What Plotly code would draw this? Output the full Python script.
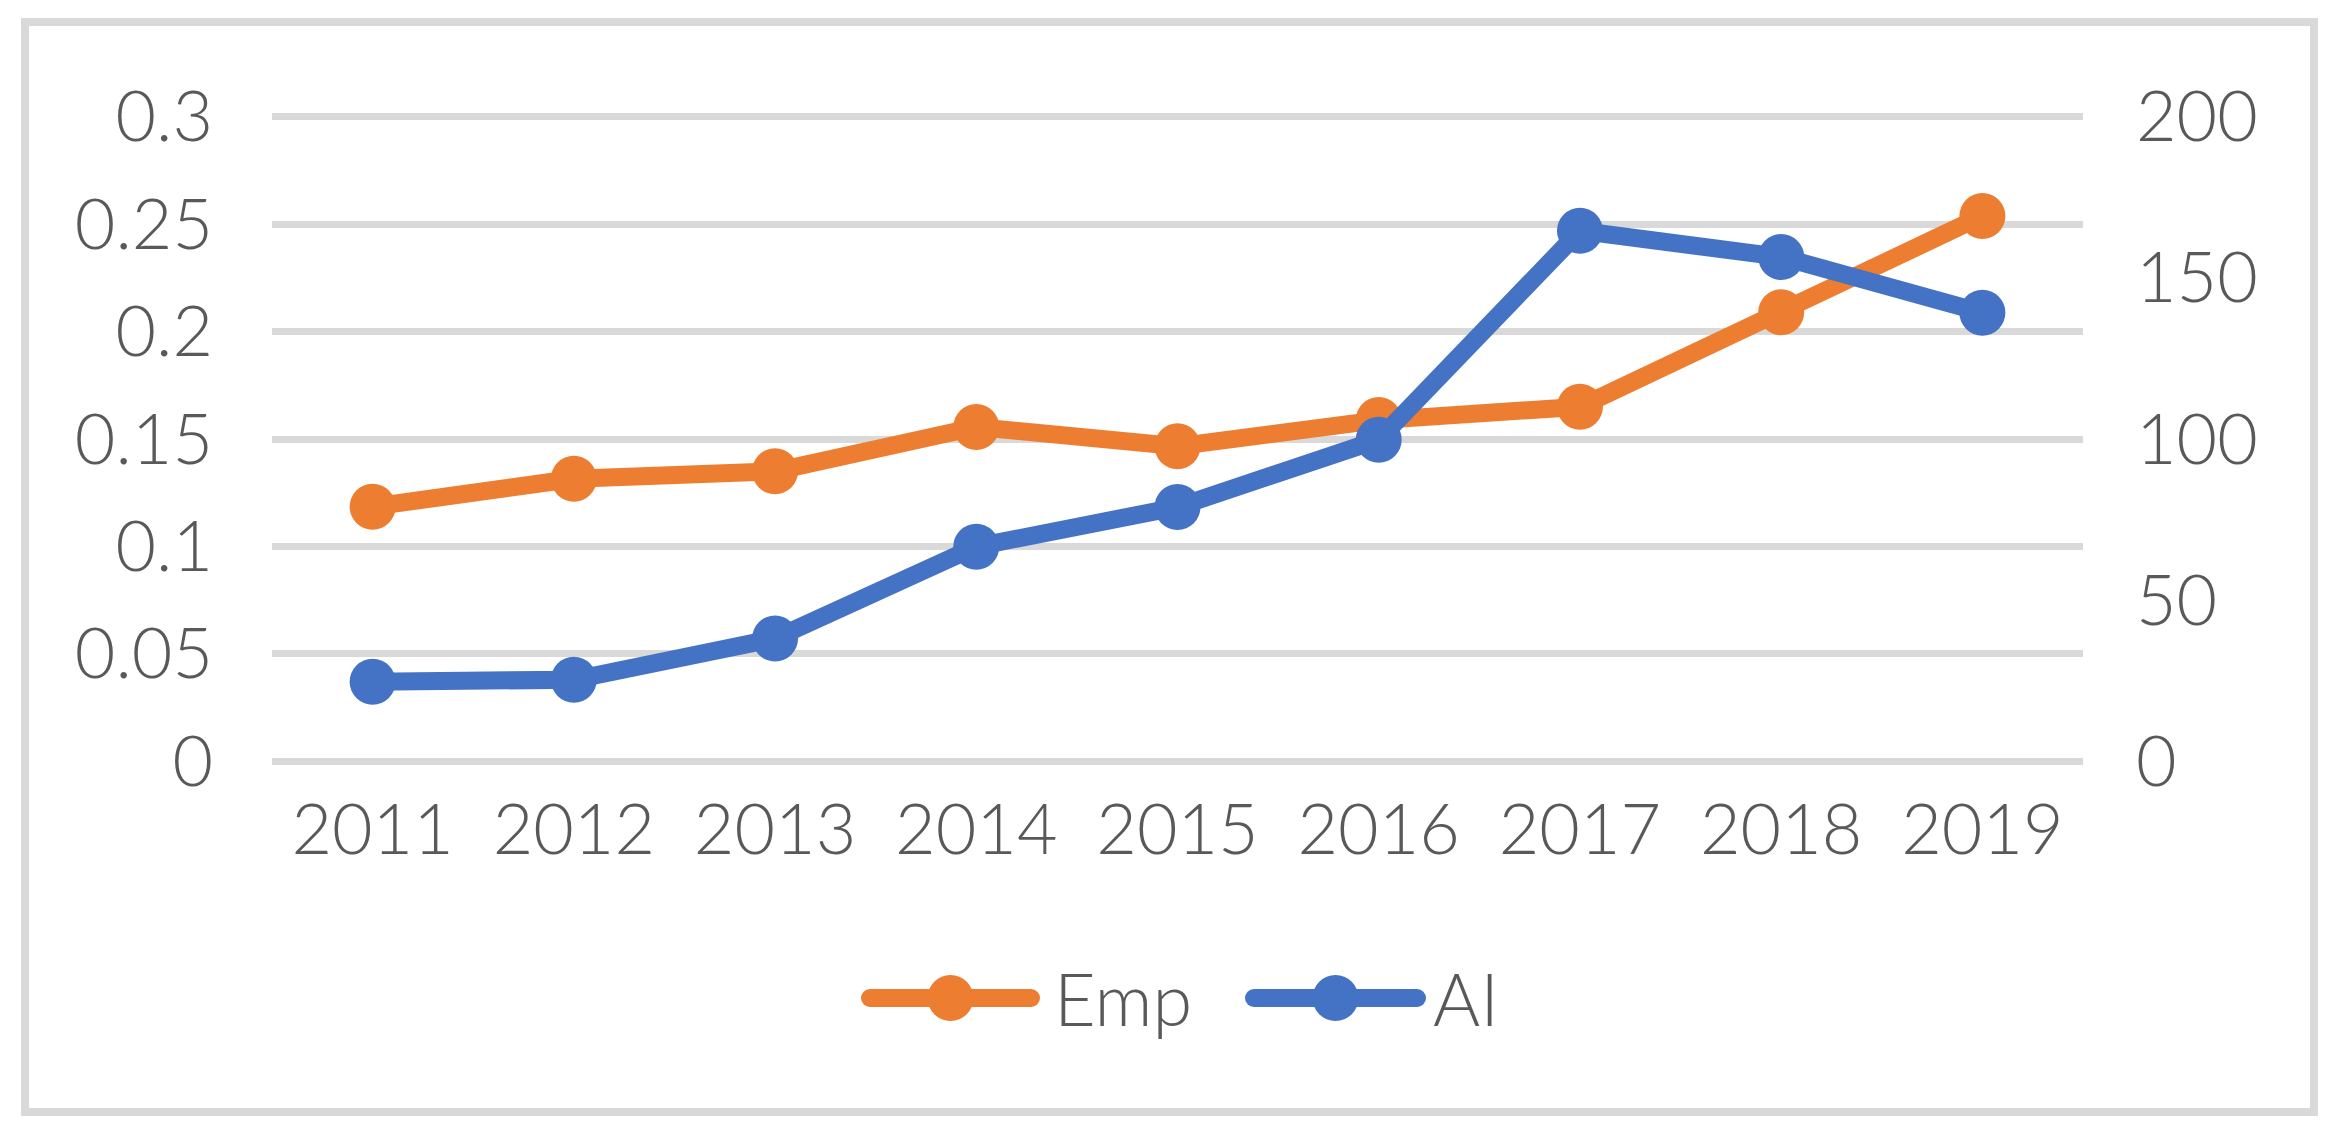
import plotly.graph_objects as go

years = ["2011", "2012", "2013", "2014", "2015", "2016", "2017", "2018", "2019"]
emp = [0.1185, 0.1315, 0.135, 0.1556, 0.1466, 0.1588, 0.165, 0.209, 0.2538]
ai = [24.7, 25.3, 38.1, 66.6, 78.9, 99.8, 164.6, 156.5, 139.2]
series_names = ["Emp", "AI"]
series_colors = ["#ED7D31", "#4472C4"]

W, H = 2329, 1128
L, R, T, B = 264, 254, 107, 373
pw, ph = W - L - R, H - T - B

def px2paper_x(px):
    return (px - L) / pw

def px2paper_y(py):
    return (H - B - py) / ph

font_color = "#595959"
fam = "Lato, Liberation Sans, Arial, sans-serif"
fw = 300

# small pad so the edge gridlines (0 and 0.3) are not clipped by plotly
pad_left = 0.0008
pad_right = pad_left / 0.3 * 200

fig = go.Figure()
fig.add_trace(go.Scatter(
    x=years, y=emp, name=series_names[0], mode="lines+markers",
    line=dict(color=series_colors[0], width=18),
    marker=dict(color=series_colors[0], size=46, symbol="circle"),
    yaxis="y", showlegend=False,
))
fig.add_trace(go.Scatter(
    x=years, y=ai, name=series_names[1], mode="lines+markers",
    line=dict(color=series_colors[1], width=18),
    marker=dict(color=series_colors[1], size=46, symbol="circle"),
    yaxis="y2", showlegend=False,
))

# custom legend (larger symbols than plotly's legend allows)
shapes = [dict(
    type="rect", xref="paper", yref="paper",
    x0=px2paper_x(17), x1=px2paper_x(2306),
    y0=px2paper_y(1104), y1=px2paper_y(14),
    line=dict(color="#d9d9d9", width=8), fillcolor="rgba(0,0,0,0)",
    layer="below",
)]
annotations = []
leg_y = px2paper_y(990)
leg_line_x = [(853, 1032), (1237, 1418)]
leg_text_x = [1044, 1423]
for i, name in enumerate(series_names):
    x0, x1 = leg_line_x[i]
    shapes.append(dict(
        type="line", xref="paper", yref="paper",
        x0=px2paper_x(x0 + 9), x1=px2paper_x(x1 - 9), y0=leg_y, y1=leg_y,
        line=dict(color=series_colors[i], width=18),
    ))
    for cx in (x0 + 9, x1 - 9):
        shapes.append(dict(
            type="circle", xref="paper", yref="paper",
            xsizemode="pixel", ysizemode="pixel",
            xanchor=px2paper_x(cx), yanchor=leg_y,
            x0=-9, x1=9, y0=-9, y1=9,
            fillcolor=series_colors[i], line=dict(width=0),
        ))
    shapes.append(dict(
        type="circle", xref="paper", yref="paper",
        xsizemode="pixel", ysizemode="pixel",
        xanchor=px2paper_x((x0 + x1) / 2), yanchor=leg_y,
        x0=-23, x1=23, y0=-23, y1=23,
        fillcolor=series_colors[i], line=dict(width=0),
    ))
    annotations.append(dict(
        text=name, xref="paper", yref="paper",
        x=px2paper_x(leg_text_x[i]), y=leg_y,
        xanchor="left", yanchor="middle", showarrow=False,
        font=dict(size=72, color=font_color, family=fam, weight=fw),
    ))

tf = dict(size=70, color=font_color, family=fam, weight=fw)

fig.update_layout(
    width=W, height=H,
    margin=dict(l=L, r=R, t=T, b=B, pad=0, autoexpand=False),
    paper_bgcolor="white", plot_bgcolor="white",
    font=dict(family=fam, size=70, color=font_color, weight=fw),
    xaxis=dict(
        type="category", range=[-0.5, 8.5], showgrid=False, zeroline=False,
        showline=False, ticks="", ticklabelstandoff=20, tickangle=0,
        tickfont=tf,
    ),
    yaxis=dict(
        range=[-pad_left, 0.3 + pad_left], tickvals=[0, 0.05, 0.1, 0.15, 0.2, 0.25, 0.3],
        ticktext=["0", "0.05", "0.1", "0.15", "0.2", "0.25", "0.3"],
        showgrid=True, gridcolor="#d9d9d9", gridwidth=7, zeroline=False, showline=False,
        ticks="", ticklabelstandoff=58, tickfont=tf,
    ),
    yaxis2=dict(
        range=[-pad_right, 200 + pad_right], tickvals=[0, 50, 100, 150, 200],
        overlaying="y", side="right",
        showgrid=False, zeroline=False, showline=False, ticks="",
        ticklabelstandoff=52, tickfont=tf,
    ),
    showlegend=False,
    shapes=shapes,
    annotations=annotations,
)

fig.write_html("out.html")
